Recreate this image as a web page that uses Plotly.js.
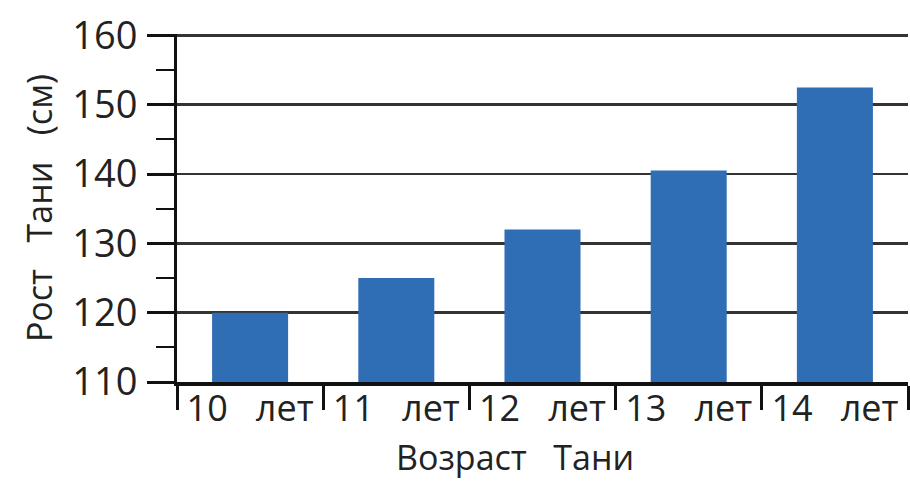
<!DOCTYPE html>
<html>
<head>
<meta charset="utf-8">
<script src="https://cdn.plot.ly/plotly-3.0.1.min.js"></script>
<style>html,body{margin:0;padding:0;background:#fff;}#chart{width:910px;height:481px;}</style>
</head>
<body>
<div id="chart"></div>
<script>
const categories = ["10\u00a0\u00a0\u00a0лет", "11\u00a0\u00a0\u00a0лет", "12\u00a0\u00a0\u00a0лет", "13\u00a0\u00a0\u00a0лет", "14\u00a0\u00a0\u00a0лет"];
const heights = [120, 125, 132, 140.5, 152.5];
const yTickVals = [110, 120, 130, 140, 150, 160];
const xTitle = "Возраст\u00a0\u00a0\u00a0Тани";
const yTitle = "Рост\u00a0\u00a0\u00a0Тани\u00a0\u00a0\u00a0(см)";
const yBase = 110;

const font = "Open Sans, Noto Sans, sans-serif";
const data = [{
  type: "bar",
  x: categories,
  y: heights.map(v => v - yBase),
  base: yBase,
  marker: {color: "#2f6db5", line: {width: 0}},
  hoverinfo: "skip"
}];

const plotW = 910 - 177 - 2;
const plotH = 481 - 34 - 99;

const layout = {
  width: 910, height: 481,
  margin: {l: 177, r: 2, t: 34, b: 99},
  paper_bgcolor: "#fff", plot_bgcolor: "#fff",
  bargap: 0.48,
  showlegend: false,
  font: {family: font, color: "#222", size: 36},
  xaxis: {
    type: "category",
    tickson: "boundaries",
    ticks: "outside", ticklen: 24, tickwidth: 3, tickcolor: "#111",
    showline: true, linecolor: "#111", linewidth: 4,
    showgrid: false, zeroline: false,
    tickfont: {family: font, size: 36, color: "#222"},
    ticklabelstandoff: -8
  },
  yaxis: {
    range: [110, 160.2],
    tickvals: yTickVals,
    ticks: "outside", ticklen: 27, tickwidth: 3, tickcolor: "#111",
    showline: true, linecolor: "#111", linewidth: 3,
    showgrid: true, gridcolor: "#333", gridwidth: 2.5,
    zeroline: false,
    tickfont: {family: font, size: 38, color: "#222"},
    ticklabelstandoff: 2,
    minor: {dtick: 5, tick0: 115, ticks: "outside", ticklen: 18, tickwidth: 2, tickcolor: "#111", showgrid: false},
    title: {text: yTitle, font: {family: font, size: 34, color: "#222"}, standoff: 10}
  },
  annotations: [{
    text: xTitle, xref: "paper", yref: "paper",
    x: (395 - 177) / plotW, xanchor: "left",
    y: -99 / plotH, yanchor: "bottom",
    showarrow: false, borderpad: 0,
    font: {family: font, size: 34, color: "#222"}
  }]
};

Plotly.newPlot("chart", data, layout, {displayModeBar: false, staticPlot: true});
</script>
</body>
</html>
